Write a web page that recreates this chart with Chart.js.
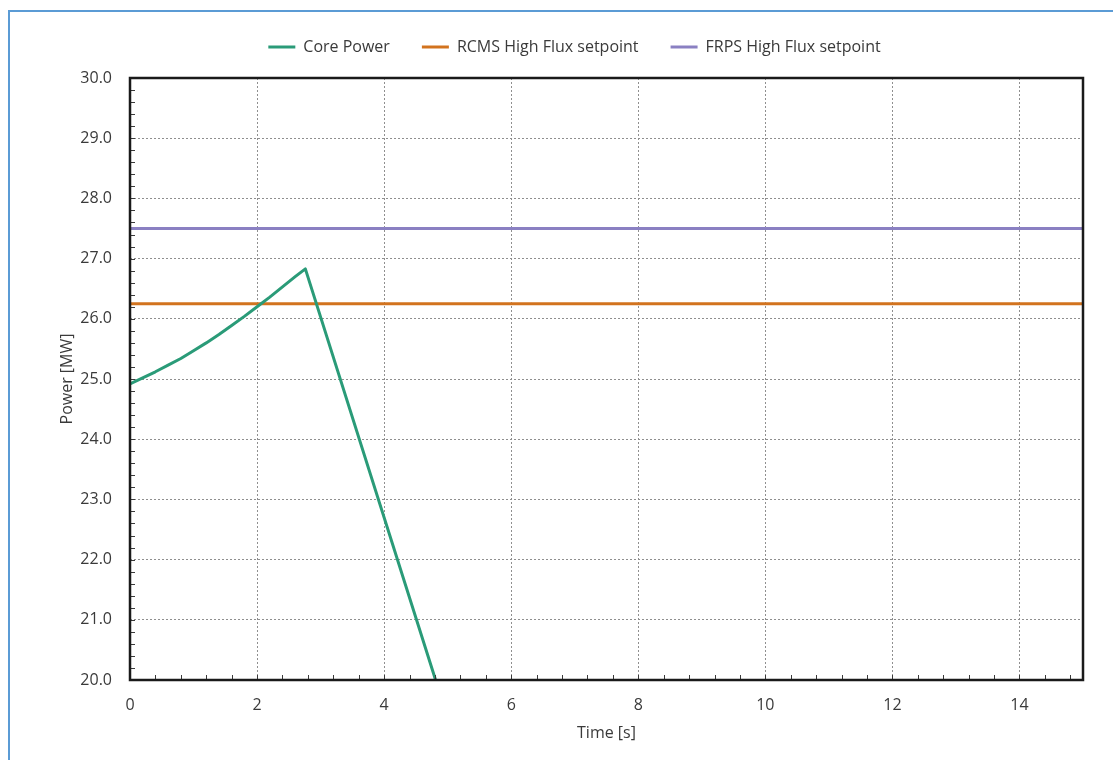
<!DOCTYPE html>
<html>
<head>
<meta charset="utf-8">
<script src="https://cdn.jsdelivr.net/npm/chart.js@4.4.0/dist/chart.umd.min.js"></script>
<style>
  html, body { margin: 0; padding: 0; background: #fff; overflow: hidden; }
  #wrap { position: relative; width: 1113px; height: 760px; }
  #frame { position: absolute; left: 8px; top: 10px; width: 1200px; height: 900px; border: 2px solid #5b9bd5; box-sizing: border-box; pointer-events: none; }
  canvas { position: absolute; left: 0; top: 0; }
</style>
</head>
<body>
<div id="wrap">
  <canvas id="c" width="1113" height="760"></canvas>
  <div id="frame"></div>
</div>
<script>
// ---- data ----
const timeS = [0, 0.2, 0.4, 0.6, 0.8, 1.0, 1.2, 1.4, 1.6, 1.8, 2.0, 2.2, 2.4, 2.6, 2.76, 4.81];
const corePowerMW = [24.92, 25.02, 25.12, 25.23, 25.34, 25.47, 25.60, 25.74, 25.89, 26.04, 26.20, 26.36, 26.53, 26.70, 26.83, 20.0];
const setpointTime = [0, 15];
const rcmsSetpoint = [26.25, 26.25];
const frpsSetpoint = [27.5, 27.5];
const seriesNames = ['Core Power', 'RCMS High Flux setpoint', 'FRPS High Flux setpoint'];
const xTicks = [0, 2, 4, 6, 8, 10, 12, 14];
const yTicks = [20, 21, 22, 23, 24, 25, 26, 27, 28, 29, 30];

const toPts = (xs, ys) => xs.map((x, i) => ({ x: x, y: ys[i] }));
const FONT = "'Open Sans', 'DejaVu Sans', sans-serif";
const TXT = '#3a3a3a';

const frameAndMinor = {
  id: 'frameAndMinor',
  beforeLayout(chart) {
    const lg = chart.legend;
    if (lg && !lg.__patched) {
      const f = lg.fit;
      lg.fit = function () { f.call(this); this.height = 71; };
      lg.__patched = true;
    }
  },
  afterLayout(chart) {
    const lg = chart.legend;
    if (lg) { lg.left += 33; lg.right += 33; }
  },
  afterDatasetsDraw(chart) {
    const { ctx, chartArea: a, scales: { x, y } } = chart;
    ctx.save();
    ctx.strokeStyle = '#3a3a3a';
    ctx.lineWidth = 1;
    for (let i = 0; i <= 37; i++) {
      const px = Math.round(x.getPixelForValue(i * 0.4)) + 0.5;
      ctx.beginPath(); ctx.moveTo(px, a.bottom); ctx.lineTo(px, a.bottom - 5); ctx.stroke();
    }
    for (let i = 0; i <= 50; i++) {
      const py = Math.round(y.getPixelForValue(20 + i * 0.2)) + 0.5;
      ctx.beginPath(); ctx.moveTo(a.left, py); ctx.lineTo(a.left + 5, py); ctx.stroke();
    }
    ctx.strokeStyle = '#1a1a1a';
    ctx.lineWidth = 2.5;
    ctx.strokeRect(a.left, a.top, a.right - a.left, a.bottom - a.top);
    ctx.restore();
  }
};

new Chart(document.getElementById('c'), {
  type: 'scatter',
  data: {
    datasets: [
      { label: seriesNames[0], data: toPts(timeS, corePowerMW), showLine: true, borderColor: '#2a9b78', backgroundColor: '#2a9b78', borderWidth: 3, pointRadius: 0, tension: 0, borderJoinStyle: 'round' },
      { label: seriesNames[1], data: toPts(setpointTime, rcmsSetpoint), showLine: true, borderColor: '#d2731e', backgroundColor: '#d2731e', borderWidth: 3, pointRadius: 0 },
      { label: seriesNames[2], data: toPts(setpointTime, frpsSetpoint), showLine: true, borderColor: '#8a80c2', backgroundColor: '#8a80c2', borderWidth: 3, pointRadius: 0 }
    ]
  },
  options: {
    responsive: false,
    animation: false,
    layout: { padding: { left: 0, right: 30, top: 7, bottom: 0 } },
    plugins: {
      legend: {
        display: true,
        position: 'top',
        labels: {
          boxWidth: 27, boxHeight: 3, padding: 32, color: TXT, font: { family: FONT, size: 16 },
          generateLabels: (chart) => Chart.defaults.plugins.legend.labels.generateLabels(chart).map(it => Object.assign(it, { lineWidth: 0 }))
        }
      },
      tooltip: { enabled: false }
    },
    scales: {
      x: {
        type: 'linear', min: 0, max: 15,
        afterBuildTicks: s => { s.ticks = xTicks.map(v => ({ value: v })); },
        afterFit: s => { s.height = 80; },
        ticks: { includeBounds: false, autoSkip: false, maxRotation: 0, padding: 16, color: TXT, font: { family: FONT, size: 16 } },
        grid: { drawTicks: false, color: '#8f8f8f', lineWidth: 1 },
        border: { display: false, dash: [2, 2] },
        title: { display: true, text: 'Time [s]', color: TXT, font: { family: FONT, size: 16 }, padding: { top: 0, bottom: 17 } }
      },
      y: {
        type: 'linear', min: 20, max: 30,
        afterBuildTicks: s => { s.ticks = yTicks.map(v => ({ value: v })); },
        afterFit: s => { s.width = 130; },
        ticks: { includeBounds: false, autoSkip: false, padding: 18, color: TXT, font: { family: FONT, size: 16 }, callback: v => Number(v).toFixed(1) },
        grid: { drawTicks: false, color: '#8f8f8f', lineWidth: 1 },
        border: { display: false, dash: [2, 2] },
        title: { display: true, text: 'Power [MW]', color: TXT, font: { family: FONT, size: 16 }, padding: { top: 58, bottom: 0 } }
      }
    }
  },
  plugins: [frameAndMinor]
});
</script>
</body>
</html>
